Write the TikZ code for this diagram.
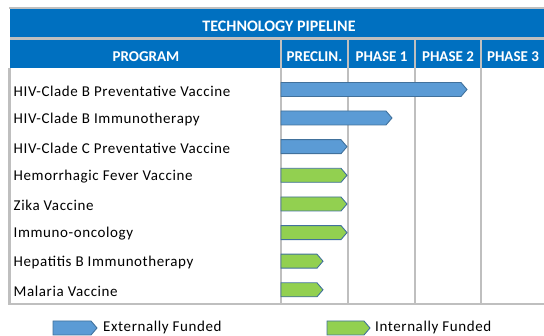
\documentclass[tikz,border=0pt]{standalone}
\usepackage{fontspec}
\setmainfont{Carlito}
\newfontfamily\progfont[LetterSpace=4.0]{Carlito}
\usepackage{tikz}
\usetikzlibrary{positioning}

\definecolor{hdrblue}{HTML}{0070C0}
\definecolor{barblue}{HTML}{5B9BD5}
\definecolor{bargreen}{HTML}{92D050}
\definecolor{baredge}{HTML}{41719C}
\definecolor{gridgray}{HTML}{BFBFBF}

\tikzset{
    hdr/.style={text=white, font=\fontsize{15}{17}\selectfont\bfseries, inner sep=0pt},
    prog/.style={anchor=west, font=\progfont\fontsize{15}{17}\selectfont, inner sep=0pt},
    grid/.style={draw=gridgray, line width=2.2pt},
    bar/.style={draw=baredge, line width=0.9pt, line join=miter}
}

% bar: centre y, end x, colour
\newcommand{\pipebar}[3]{%
    \draw[bar, fill=#3] (281,#1-7) -- (#2-6,#1-7) -- (#2,#1) -- (#2-6,#1+7) -- (281,#1+7) -- cycle;}

\begin{document}
\begin{tikzpicture}[x=1pt, y=-1pt]
    \useasboundingbox (0,0) rectangle (544,336);

    % header
    \fill[hdrblue] (10,9) rectangle (544,38);
    \fill[hdrblue] (10,39) rectangle (544,68.5);
    \draw[grid] (9,8) -- (544,8);
    \draw[grid] (10,38.5) -- (544,38.5);
    \node[hdr, font=\fontsize{16}{18}\selectfont\bfseries] (title) at (279,26) {TECHNOLOGY PIPELINE};
    \node[hdr] (program) at (146,57) {PROGRAM};
    \node[hdr] (preclin) at (314.5,57) {PRECLIN.};
    \node[hdr] (phase1) at (381.5,57) {PHASE 1};
    \node[hdr] (phase2) at (448,57) {PHASE 2};
    \node[hdr] (phase3) at (513,57) {PHASE 3};

    % grid
    \draw[grid] (9.5,68) -- (9.5,304) -- (544,304);
    \foreach \x in {281,348,415,481} {
        \draw[grid] (\x,38.5) -- (\x,304);
    }

    % programs
    \foreach \i/\name in {0/HIV-Clade B Preventative Vaccine,
                          1/HIV-Clade B Immunotherapy,
                          2/HIV-Clade C Preventative Vaccine,
                          3/Hemorrhagic Fever Vaccine,
                          4/Zika Vaccine,
                          5/Immuno-oncology,
                          6/Hepatitis B Immunotherapy,
                          7/Malaria Vaccine} {
        \node[prog] (row\i) at (13.5,91+28.6*\i) {\name};
    }

    % bars
    \pipebar{89.5}{467}{barblue}
    \pipebar{118}{392}{barblue}
    \pipebar{146.7}{347}{barblue}
    \pipebar{175.3}{347}{bargreen}
    \pipebar{204}{347}{bargreen}
    \pipebar{232.6}{347}{bargreen}
    \pipebar{261.2}{323}{bargreen}
    \pipebar{289.8}{323}{bargreen}

    % legend
    \draw[bar, fill=barblue] (53,321) -- (91,321) -- (97,328) -- (91,335) -- (53,335) -- cycle;
    \coordinate (extkey) at (97,328);
    \node[prog, right=6pt of extkey] (extlabel) {Externally Funded};
    \draw[bar, fill=bargreen] (327,321) -- (364,321) -- (370,328) -- (364,335) -- (327,335) -- cycle;
    \coordinate (intkey) at (370,328);
    \node[prog, right=5pt of intkey] (intlabel) {Internally Funded};
\end{tikzpicture}
\end{document}
